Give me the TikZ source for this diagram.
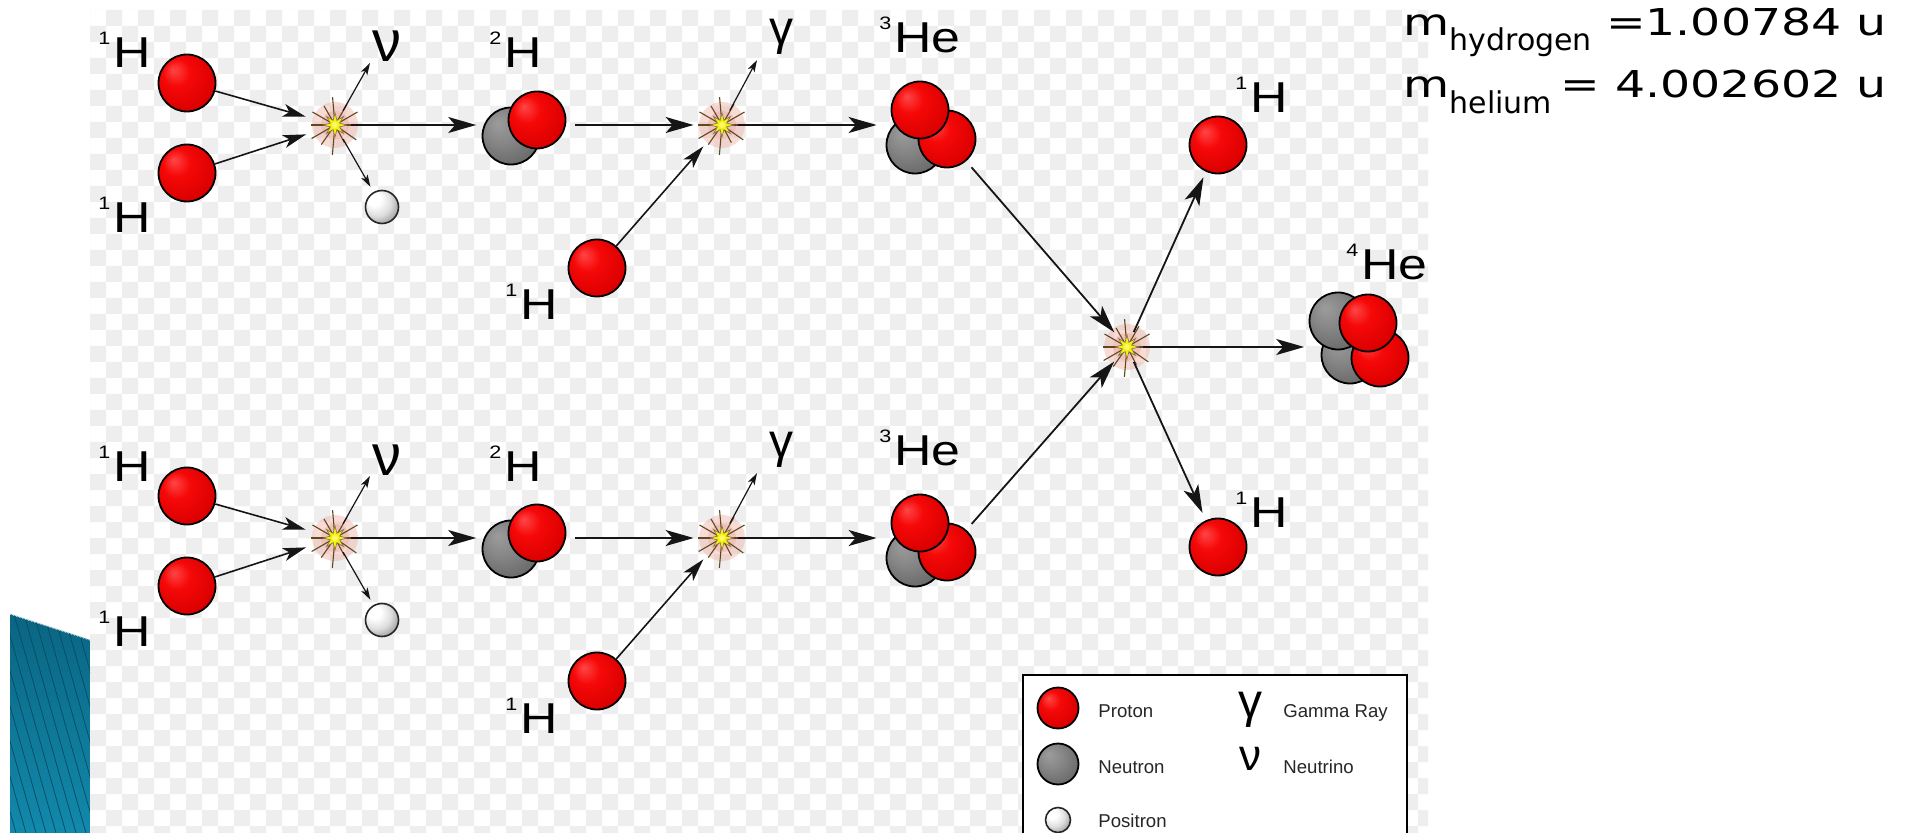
\documentclass[tikz,border=0pt]{standalone}
\usepackage{fontspec}
\setmainfont{Liberation Sans}
\newfontfamily\isofont{Liberation Sans}[FakeStretch=1.2]
\newfontfamily\greekfont{Liberation Sans}
\newfontfamily\slidefont{DejaVu Sans}[FakeStretch=1.28]
\newfontfamily\slidesub{DejaVu Sans}
\usetikzlibrary{arrows.meta}

\definecolor{checkgray}{HTML}{EEEEEE}
\definecolor{tealtop}{HTML}{0A6582}
\definecolor{tealbot}{HTML}{1289AC}
\definecolor{tealline}{HTML}{064B60}
\definecolor{spikecol}{HTML}{5C4A1E}
\definecolor{glowcol}{HTML}{F2B0A6}
\definecolor{corecol}{HTML}{F4F010}
\definecolor{arrowcol}{HTML}{151515}

% shading stops for the nucleons
\definecolor{pr0}{RGB}{255,70,70}
\definecolor{pr1}{RGB}{246,8,8}
\definecolor{pr2}{RGB}{218,0,0}
\definecolor{pr3}{RGB}{178,0,0}
\definecolor{pr4}{RGB}{128,0,0}
\definecolor{nt0}{RGB}{156,156,156}
\definecolor{nt1}{RGB}{134,134,134}
\definecolor{nt2}{RGB}{104,104,104}
\definecolor{nt3}{RGB}{72,72,72}
\definecolor{nt4}{RGB}{48,48,48}
\definecolor{ps1}{RGB}{222,222,222}
\definecolor{ps2}{RGB}{150,150,150}
\definecolor{ps3}{RGB}{88,88,88}

\pgfdeclareradialshading{protonshade}{\pgfpoint{-12bp}{12bp}}{%
  color(0bp)=(pr0); color(12bp)=(pr1); color(30bp)=(pr2); color(42bp)=(pr3); color(50bp)=(pr4)}
\pgfdeclareradialshading{neutronshade}{\pgfpoint{-12bp}{12bp}}{%
  color(0bp)=(nt0); color(15bp)=(nt1); color(32bp)=(nt2); color(44bp)=(nt3); color(50bp)=(nt4)}
\pgfdeclareradialshading{positronshade}{\pgfpoint{-15bp}{15bp}}{%
  color(0bp)=(white); color(10bp)=(white); color(22bp)=(ps1); color(34bp)=(ps2); color(46bp)=(ps3); color(50bp)=(ps3)}

% mass number as a raised prefix to the element symbol
\newcommand\isolabel[2]{\raisebox{11.5pt}{\fontsize{9}{9}\selectfont #1}\kern1.5pt#2}

\tikzset{
  nucleon/.style={circle, draw=black, line width=0.9pt, inner sep=0pt, minimum size=28.5pt},
  proton/.style={nucleon, shading=protonshade},
  neutron/.style={nucleon, shading=neutronshade},
  positron/.style={circle, draw=black!85, line width=0.8pt, inner sep=0pt, minimum size=16.5pt, shading=positronshade},
  isotope/.style={inner sep=0pt, anchor=base west, font=\isofont\fontsize{21.6}{22}\selectfont},
  particle/.style={inner sep=0pt, anchor=base, font=\greekfont\fontsize{24}{24}\selectfont},
  reactionpoint/.style={circle, inner sep=0pt, minimum size=16pt},
  flow/.style={draw=arrowcol, line width=0.9pt, -{Stealth[length=14pt,width=8pt,inset=3.5pt]}},
  feed/.style={draw=arrowcol, line width=0.8pt, -{Stealth[length=11.5pt,width=6.5pt,inset=3pt]}},
  emit/.style={draw=arrowcol, line width=0.6pt, -{Stealth[length=6pt,width=3.6pt,inset=1.5pt]}},
  legendtext/.style={inner sep=0pt, anchor=base west, text=black!85, font=\fontsize{9.3}{10}\selectfont},
  legendsym/.style={inner sep=0pt, anchor=base, font=\greekfont\fontsize{24}{24}\selectfont},
  masstext/.style={inner sep=0pt, font=\slidefont\fontsize{18.5}{20}\selectfont},
  burst/.pic={
    \fill[glowcol, opacity=0.45] (0,0) circle (23);
    \fill[glowcol, opacity=0.55] (0,0) circle (14);
    \foreach \a/\l in {0/22, 35/26, 62/20, 95/30, 125/24, 150/27, 180/24, 210/26, 240/22, 265/28, 300/24, 330/26}
      \draw[spikecol, line width=0.55pt] (0,0) -- (\a:\l);
    \fill[corecol, draw=spikecol!80, line width=0.3pt]
      (0:12) -- (22.5:5) -- (45:12) -- (67.5:5) -- (90:12) -- (112.5:5) -- (135:12) -- (157.5:5)
      -- (180:12) -- (202.5:5) -- (225:12) -- (247.5:5) -- (270:12) -- (292.5:5) -- (315:12) -- (337.5:5) -- cycle;
    \fill[yellow!60!white] (0,0) circle (3);
  }
}

\begin{document}
\begin{tikzpicture}[x=0.5pt, y=-0.5pt]
\useasboundingbox (0,0) rectangle (1914,833);
\clip (0,0) rectangle (1914,833);
\fill[white] (0,0) rectangle (1914,833);

% checkered backdrop of the reaction chart
\begin{scope}
  \clip (90,10) rectangle (1428,833);
  \fill[checkgray, even odd rule]
    \foreach \i in {0,2,...,84} { (90+\i*16,10) rectangle ++(16,823) }
    \foreach \j in {0,2,...,52} { (90,10+\j*16) rectangle ++(1338,16) };
\end{scope}

% striped slide ornament, lower left
\shade[top color=tealtop, bottom color=tealbot] (10,614) -- (90,640) -- (90,833) -- (10,833) -- cycle;
\begin{scope}
  \clip (10,614) -- (90,640) -- (90,833) -- (10,833) -- cycle;
  \foreach \k in {-60,-50,...,90}
    \draw[tealline, line width=0.35pt] (\k,600) -- ++(68,240);
\end{scope}
\draw[white!75!tealtop, densely dotted, line width=0.6pt] (10,614) -- (90,640);

% the two identical branches of the chain
\foreach \r/\dy in {a/0, b/413} {
  % p + p -> d + e+ + nu
  \node[proton] (h1\r) at (187,83+\dy) {};
  \node[proton] (h2\r) at (187,173+\dy) {};
  \node[isotope] (lh1\r) at (98,68+\dy) {\isolabel{1}{H}};
  \node[isotope] (lh2\r) at (98,233+\dy) {\isolabel{1}{H}};
  \pic at (335,125+\dy) {burst};
  \node[reactionpoint] (s1\r) at (335,125+\dy) {};
  \node[positron] (e\r) at (382,207+\dy) {};
  \node[particle, font=\greekfont\fontsize{29}{29}\selectfont] (nu\r) at (387,62+\dy) {ν};
  \coordinate (nt\r) at (370,63+\dy);

  % deuteron
  \node[neutron] (dn\r) at (511,136+\dy) {};
  \node[proton] (dp\r) at (537,120+\dy) {};
  \node[isotope] (ld\r) at (489,68+\dy) {\isolabel{2}{H}};

  % d + p -> 3He + gamma
  \node[proton] (h3\r) at (597,268+\dy) {};
  \node[isotope] (lh3\r) at (505,320+\dy) {\isolabel{1}{H}};
  \pic at (722,125+\dy) {burst};
  \node[reactionpoint] (s2\r) at (722,125+\dy) {};
  \node[particle] (ga\r) at (781,45+\dy) {γ};
  \coordinate (gt\r) at (757,60+\dy);

  % helium-3
  \node[neutron] (tn\r) at (915,145+\dy) {};
  \node[proton] (tq\r) at (947,139+\dy) {};
  \node[proton] (tp\r) at (920,110+\dy) {};
  \node[isotope] (lt\r) at (879,53+\dy) {\isolabel{3}{He}};

  \draw[feed, shorten >=7pt] (h1\r) -- (s1\r);
  \draw[feed, shorten >=7pt] (h2\r) -- (s1\r);
  \draw[emit] (s1\r) -- (nt\r);
  \draw[emit, shorten >=3pt] (s1\r) -- (e\r);
  \draw[flow, shorten >=2.7pt] (s1\r) -- (s1\r -| dn\r.west);
  \draw[flow, shorten <=4.5pt, shorten >=6pt] (dp\r.east |- s2\r) -- (s2\r);
  \draw[feed, shorten >=6pt] (h3\r) -- (s2\r);
  \draw[emit] (s2\r) -- (gt\r);
  \draw[flow, shorten >=4.5pt] (s2\r) -- (s2\r -| tn\r.west);
}

% 3He + 3He -> 4He + 2p
\pic at (1127,347) {burst};
\node[reactionpoint] (s3) at (1127,347) {};
\node[proton] (pu) at (1218,145) {};
\node[isotope] (lpu) at (1235,113) {\isolabel{1}{H}};
\node[proton] (pl) at (1218,547) {};
\node[isotope] (lpl) at (1235,527) {\isolabel{1}{H}};

\node[neutron] (fn2) at (1350,355) {};
\node[proton] (fp2) at (1380,358) {};
\node[neutron] (fn1) at (1338,321) {};
\node[proton] (fp1) at (1368,323) {};
\node[isotope] (lf) at (1346,280) {\isolabel{4}{He}};

\draw[flow, shorten <=4pt, shorten >=1.5pt] (tqa) -- (s3);
\draw[flow, shorten <=4pt, shorten >=1.5pt] (tqb) -- (s3);
\draw[flow, shorten >=3pt] (s3) -- (pu);
\draw[flow, shorten >=4pt] (s3) -- (pl);
\draw[flow, shorten >=2.2pt] (s3) -- (s3 -| fn1.west);

% legend
\draw[line width=1pt, fill=white] (1023,675) rectangle (1407,860);
\node[proton, minimum size=20.5pt] (kp) at (1058,708) {};
\node[neutron, minimum size=20.5pt] (kn) at (1058,764) {};
\node[positron, minimum size=12.5pt] (ke) at (1058,820) {};
\node[legendtext] (tp) at (1098,717) {Proton};
\node[legendtext] (tn) at (1098,773) {Neutron};
\node[legendtext] (te) at (1098,827) {Positron};
\node[legendsym] (kg) at (1250,717.5) {γ};
\node[legendsym, font=\greekfont\fontsize{22}{22}\selectfont] (kv) at (1250,770) {ν};
\node[legendtext] (tg) at (1283,717) {Gamma Ray};
\node[legendtext] (tv) at (1283,773) {Neutrino};

% atomic masses
\node[masstext, anchor=base west] (mh) at (1403,36) {m\raisebox{-7.5pt}{\slidesub\fontsize{15}{15}\selectfont hydrogen}};
\node[masstext, anchor=base east] (vh) at (1887,36) {=1.00784 u};
\node[masstext, anchor=base west] (mhe) at (1403,98) {m\raisebox{-8pt}{\slidesub\fontsize{15}{15}\selectfont helium}};
\node[masstext, anchor=base east] (vhe) at (1887,98) {= 4.002602 u};
\end{tikzpicture}
\end{document}
